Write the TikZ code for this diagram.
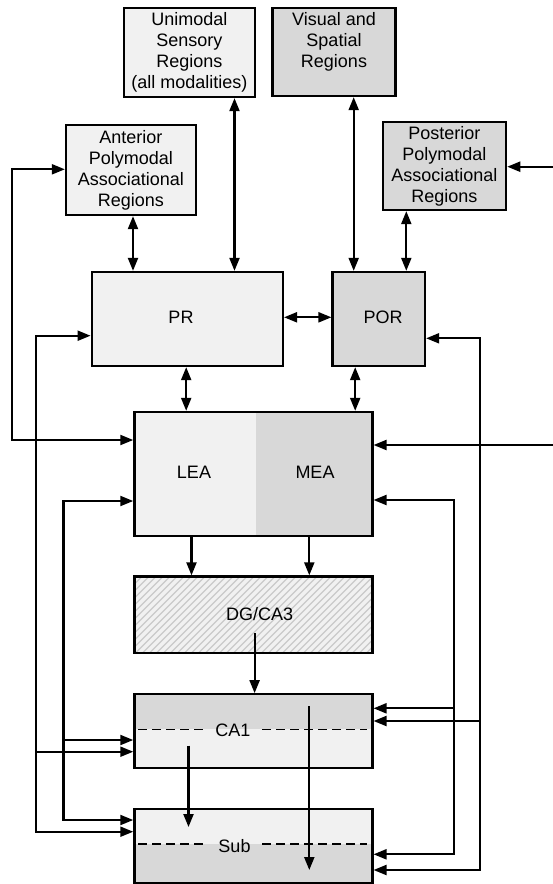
\documentclass[tikz,border=0pt]{standalone}
\usepackage{fontspec}
\setmainfont{Liberation Sans}
\usetikzlibrary{arrows.meta,backgrounds}
\definecolor{lightfill}{HTML}{F1F1F1}
\definecolor{darkfill}{HTML}{D8D8D8}
\definecolor{hatchline}{HTML}{CACACA}
\begin{document}
\begin{tikzpicture}[x=1pt,y=-1pt,
  txt/.style={font=\fontsize{18}{21}\selectfont},
  box/.style={draw,line width=2.3pt,inner sep=0pt,align=center,txt},
  frame/.style={draw,line width=2.3pt,inner sep=0pt},
  tip/.tip={Triangle[length=13pt,width=10pt]},
  arr/.style={line width=2.1pt,-tip},
  dbl/.style={line width=2.1pt,tip-tip},
  lab/.style={txt,inner sep=0pt},
  dashline/.style={line width=1.1pt,dash pattern=on 9pt off 5pt}]
\useasboundingbox (0,0) rectangle (553,884);

% cortical input regions
\node[box,fill=lightfill,minimum width=130.5pt,minimum height=89pt] (uni) at (189.4,52.5)
  {Unimodal\\Sensory\\Regions\\(all modalities)};
\node[box,fill=darkfill,minimum width=122.8pt,minimum height=88pt] (vis) at (334,52)
  {Visual and\\Spatial\\Regions\\[3pt]};
\node[box,fill=lightfill,minimum width=129.8pt,minimum height=90pt] (ant) at (130.9,170)
  {Anterior\\Polymodal\\Associational\\Regions};
\node[box,fill=darkfill,minimum width=123.4pt,minimum height=88pt] (post) at (444.4,166)
  {Posterior\\Polymodal\\Associational\\Regions};

% perirhinal / postrhinal
\node[box,fill=lightfill,minimum width=191.2pt,minimum height=94pt] (pr) at (187.3,319) {};
\node[lab] at (181,317) {PR};
\node[box,fill=darkfill,minimum width=92.4pt,minimum height=94pt] (por) at (378.8,319) {};
\node[lab] at (383,317) {POR};

% entorhinal cortex: lateral and medial parts
\node[fill=lightfill,inner sep=0pt,minimum width=121.3pt,minimum height=124pt] (lea) at (195.05,474) {};
\node[fill=darkfill,inner sep=0pt,minimum width=116.7pt,minimum height=124pt] (mea) at (314.05,474) {};
\node[frame,minimum width=238pt,minimum height=124pt] (ea) at (253.4,474) {};
\node[lab] at (194,472) {LEA};
\node[lab] at (315,472) {MEA};

% dentate gyrus / CA3 with hatching
\begin{scope}
  \clip (134.4,576.5) rectangle (372.4,653);
  \fill[lightfill] (134.4,576.5) rectangle (372.4,653);
  \foreach \i in {-90,-83,...,250} {
    \draw[hatchline,line width=1.2pt] (134.4+\i,653) -- ++(80,-80);
  }
\end{scope}
\node[frame,minimum width=238pt,minimum height=76.5pt] (dg) at (253.4,614.75) {};
\node[lab] at (259.6,614) {DG/CA3};

% CA1 (upper half dark, lower half light)
\fill[darkfill] (134.4,694.3) rectangle (372.4,729.3);
\fill[lightfill] (134.4,729.3) rectangle (372.4,768.3);
\draw[dashline] (138,729.3) -- (207,729.3);
\draw[dashline] (262,729.3) -- (367,729.3);
\node[frame,minimum width=238pt,minimum height=74pt] (ca1) at (253.4,731.3) {};
\node[lab] (ca1t) at (232.8,730) {CA1};

% subiculum (upper half light, lower half dark)
\fill[lightfill] (134.4,809) rectangle (372.4,844);
\fill[darkfill] (134.4,844) rectangle (372.4,883);
\draw[dashline] (138,844) -- (207,844);
\draw[dashline] (262,844) -- (367,844);
\node[frame,minimum width=238pt,minimum height=74pt] (sub) at (253.4,846) {};
\node[lab] (subt) at (234.5,846) {Sub};

% reciprocal cortical connections
\draw[dbl] (uni.south -| 234.5,0) -- (pr.north -| 234.5,0);
\draw[dbl] (ant.south -| 133,0) -- (pr.north -| 133,0);
\draw[dbl] (vis.south -| 353.7,0) -- (por.north -| 353.7,0);
\draw[dbl] (post.south -| 406.3,0) -- (por.north -| 406.3,0);
\draw[dbl] (pr.east |- 0,317.3) -- (por.west |- 0,317.3);
\draw[dbl] (pr.south -| 186.2,0) -- (ea.north -| 186.2,0);
\draw[dbl] (por.south -| 355.2,0) -- (ea.north -| 355.2,0);

% inputs from the right edge
\coordinate (inpost) at (553,166.7);
\coordinate (inmea) at (553,445);
\draw[arr] (inpost) -- (post.east |- inpost);
\draw[arr] (inmea) -- (ea.east |- inmea);

% anterior polymodal <-> LEA loop
\draw[dbl] (ant.west |- 0,169.3) -- (12.3,169.3) -- (12.3,440) -- (ea.west |- 0,440);

% left return lines
\draw[arr] (35.6,831.7) -- (35.6,335.7) -- (pr.west |- 0,335.7);
\draw[arr] (35.6,335.7) -- (35.6,831.7) -- (sub.west |- 0,831.7);
\draw[arr] (35.6,751.7) -- (ca1.west |- 0,751.7);

\draw[arr] (63.5,820) -- (63.5,501) -- (ea.west |- 0,501);
\draw[arr] (63.5,501) -- (63.5,820) -- (sub.west |- 0,820);
\draw[arr] (63.5,740) -- (ca1.west |- 0,740);

% right return lines
\draw[arr] (479.6,870) -- (479.6,338.3) -- (por.east |- 0,338.3);
\draw[arr] (479.6,338.3) -- (479.6,870) -- (sub.east |- 0,870);
\draw[arr] (479.6,721) -- (ca1.east |- 0,721);

\draw[arr] (453.9,854.3) -- (453.9,500) -- (ea.east |- 0,500);
\draw[arr] (453.9,500) -- (453.9,854.3) -- (sub.east |- 0,854.3);
\draw[arr] (453.9,708.3) -- (ca1.east |- 0,708.3);

% hippocampal loop
\draw[arr] (ea.south -| 191.5,0) -- (dg.north -| 191.5,0);
\draw[arr] (ea.south -| 309.3,0) -- (dg.north -| 309.3,0);
\draw[arr] (254.6,633.3) -- (ca1.north -| 254.6,0);
\draw[arr] (188.5,745.7) -- (188.5,827);
\draw[arr] (309.3,706) -- (309.3,870);
\end{tikzpicture}
\end{document}
